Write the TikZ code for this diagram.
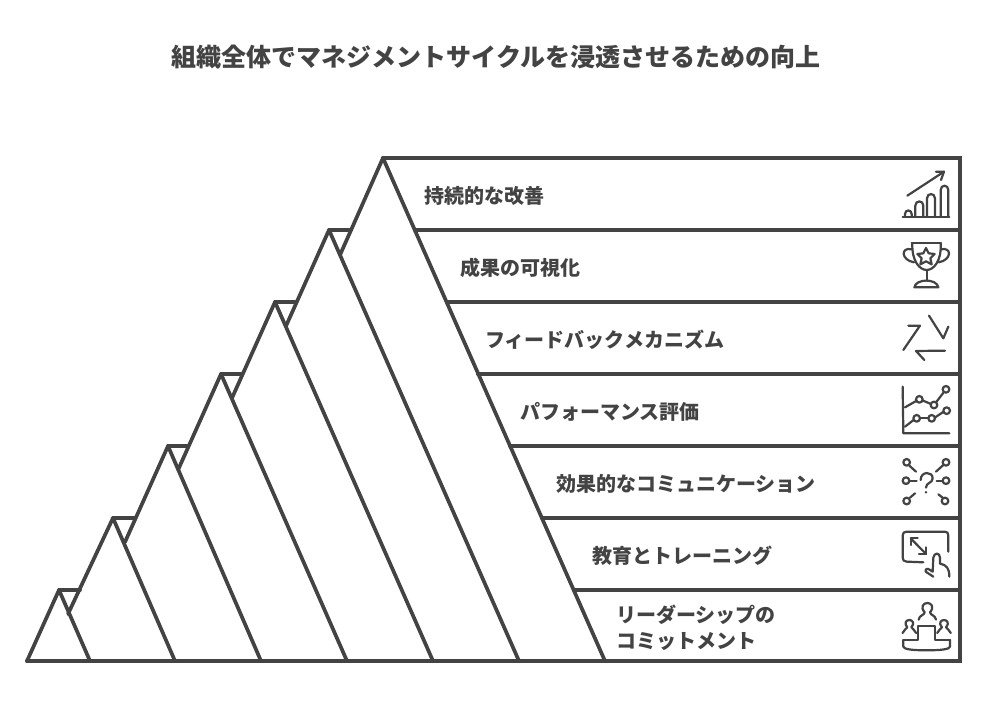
\documentclass[tikz,border=0pt]{standalone}
\usepackage{fontspec}
\setmainfont{Noto Sans CJK JP}
\usetikzlibrary{calc}
\definecolor{ink}{HTML}{434343}
\tikzset{
  edge/.style={draw=ink,line width=3.7pt,line join=round,line cap=round},
  rail/.style={draw=ink,line width=4.1pt,line cap=round},
  icon/.style={draw=ink,line width=2.2pt,line join=round,line cap=round,fill=none},
  icong/.style={x=0.3333pt,y=-0.3333pt},
  rowlabel/.style={anchor=west,inner sep=0pt,text=ink,font=\fontsize{20}{26}\selectfont\bfseries,align=left},
  titlelabel/.style={inner sep=0pt,text=ink,font=\fontsize{25}{30}\selectfont\bfseries}
}
\begin{document}
\begin{tikzpicture}[x=1pt,y=-1pt]
\useasboundingbox[fill=white] (0,0) rectangle (986,713);
\coordinate (BL) at (27,661);
\coordinate (BR) at (960,661);
\coordinate (TR) at (960,158);
\foreach \n/\ax/\ay/\bx in {1/59/590/90,2/113/518/175,3/168/446/261,4/221/374/347,5/275/302/433,6/329/230/519,7/383/158/605}{
  \coordinate (A\n) at (\ax,\ay);
  \coordinate (B\n) at (\bx,661);
}
\coordinate (J2) at (68,614);
\coordinate (J3) at (125,542);
\coordinate (J4) at (178,470);
\coordinate (J5) at (232,398);
\coordinate (J6) at (286,326);
\coordinate (J7) at (340,255);
\coordinate (H1) at (80,590);
\coordinate (H2) at (134,518);
\coordinate (H3) at (187,446);
\coordinate (H4) at (241,374);
\coordinate (H5) at (295,302);
\coordinate (H6) at (349,230);
\coordinate (R1) at (415,230);
\coordinate (R2) at (447,302);
\coordinate (R3) at (478,374);
\coordinate (R4) at (510,446);
\coordinate (R5) at (542,518);
\coordinate (R6) at (574,590);
\draw[edge] (BL) -- (A1) -- (B1);
\draw[edge] (J2) -- (A2) -- (B2);
\draw[edge] (J3) -- (A3) -- (B3);
\draw[edge] (J4) -- (A4) -- (B4);
\draw[edge] (J5) -- (A5) -- (B5);
\draw[edge] (J6) -- (A6) -- (B6);
\draw[edge] (J7) -- (A7) -- (B7);
\foreach \n in {1,...,6}{\draw[edge] (A\n) -- (H\n);}
\draw[rail] (A7) -- (TR) -- (BR) -- (BL);
\foreach \n/\y in {1/230,2/302,3/374,4/446,5/518,6/590}{\draw[rail] (R\n) -- (960,\y);}
\node[titlelabel] (title) at (496,57.5) {組織全体でマネジメントサイクルを浸透させるための向上};
\node[rowlabel] (t7) at (424,195.7) {持続的な改善};
\node[rowlabel] (t6) at (460,267.7) {成果の可視化};
\node[rowlabel] (t5) at (485,339.7) {フィードバックメカニズム};
\node[rowlabel] (t4) at (520,411.7) {パフォーマンス評価};
\node[rowlabel] (t3) at (556,483.7) {効果的なコミュニケーション};
\node[rowlabel] (t2) at (592,555.7) {教育とトレーニング};
\node[rowlabel] (t1) at (616,627.5) {リーダーシップの\\コミットメント};
\begin{scope}[shift={(880pt,-150pt)},icong]
 \draw[icon] (82,137) -- (192,65);
 \draw[icon] (168,65) -- (192,65) -- (183,90);
 \draw[icon] (68,201) -- (208,201);
 \draw[icon] (75,200) -- (75,192) .. controls (75,178) and (95,178) .. (95,192) -- (95,200);
 \draw[icon] (106,200) -- (106,167) .. controls (106,150) and (130,150) .. (130,167) -- (130,200);
 \draw[icon] (141,200) -- (141,145) .. controls (141,128) and (165,128) .. (165,145) -- (165,200);
 \draw[icon] (182,200) -- (182,120) .. controls (182,103) and (205,103) .. (205,120) -- (205,200);
 \draw[icon] (95,280) -- (183,280);
 \draw[icon] (97,280) .. controls (95,335) and (120,360) .. (140,360) .. controls (160,360) and (185,335) .. (182,280);
 \draw[icon] (95,298) .. controls (62,290) and (62,330) .. (102,337);
 \draw[icon] (183,298) .. controls (216,290) and (216,330) .. (176,337);
 \draw[icon] (140,360) -- (140,392);
 \draw[icon] (103,412) -- (175,412) .. controls (170,385) and (108,385) .. (103,412);
 \draw[icon] (138,294) -- (146,310) -- (164,312) -- (151,325) -- (155,343) -- (138,334) -- (121,343) -- (125,325) -- (112,312) -- (130,310) -- cycle;
 \draw[icon] (147,497) -- (190,565) -- (205,530);
 \draw[icon] (70,600) -- (120,527) -- (85,527);
 \draw[icon] (195,602) -- (108,603) -- (133,630);
\end{scope}
\begin{scope}[shift={(880pt,-375pt)},icong]
 \draw[icon] (68,35) -- (70,175) -- (208,175);
 \draw[icon] (75,97) -- (110,77);
 \draw[icon] (127,76) -- (153,87);
 \draw[icon] (168,82) -- (192,51);
 \draw[icon] (118,73) circle[radius=10];
 \draw[icon] (162,90) circle[radius=10];
 \draw[icon] (198,43) circle[radius=10];
 \draw[icon] (75,155) -- (102,134);
 \draw[icon] (119,130) -- (146,130);
 \draw[icon] (164,128) -- (191,110);
 \draw[icon] (110,130) circle[radius=10];
 \draw[icon] (155,130) circle[radius=10];
 \draw[icon] (200,107) circle[radius=10];
 \foreach \x/\y in {80/262,198/262,78/317,198/317,80/378,195/378}{\draw[icon] (\x,\y) circle[radius=10];}
 \draw[icon] (88,272) -- (108,290);
 \draw[icon] (190,270) -- (168,290);
 \draw[icon] (88,317) -- (110,317);
 \draw[icon] (170,317) -- (188,317);
 \draw[icon] (90,368) -- (105,355);
 \draw[icon] (175,358) -- (188,368);
 \draw[icon] (122,315) .. controls (122,288) and (158,288) .. (158,310) .. controls (158,325) and (138,322) .. (138,338);
 \fill[ink] (138,352) circle[radius=4];
 \draw[icon] (130,562) -- (80,560) .. controls (72,560) and (68,555) .. (68,548) -- (68,482) .. controls (68,474) and (72,470) .. (80,470) -- (195,470) .. controls (202,470) and (205,474) .. (205,482) -- (205,530);
 \draw[icon] (92,490) -- (138,537);
 \draw[icon] (92,510) -- (92,490) -- (113,490);
 \draw[icon] (138,517) -- (138,537) -- (117,537);
 \draw[icon] (160,605) -- (137,590) .. controls (135,582) and (142,578) .. (150,585) -- (158,590) -- (160,548) .. controls (162,532) and (180,532) .. (180,548) -- (180,566) .. controls (200,570) and (208,580) .. (208,605);
 % podium figures: open-bottomed heads with flared shoulders
 \foreach \cx/\cy/\s in {142/698/1,88/746/0.78,192/746/0.78}{
  \begin{scope}[shift={(\cx*0.3333pt,-\cy*0.3333pt)},x=0.3333*\s pt,y=-0.3333*\s pt]
   \draw[icon] (-26,36) .. controls (-24,22) and (-10,24) .. (-8,14) .. controls (-22,-2) and (-12,-14) .. (0,-14) .. controls (12,-14) and (22,-2) .. (8,14) .. controls (10,24) and (24,22) .. (26,36);
  \end{scope}
 }
 \draw[icon] (70,795) -- (115,795) -- (115,752) -- (165,752) -- (165,795) -- (210,795);
 \draw[icon] (70,795) -- (70,815) .. controls (72,822) and (90,826) .. (140,826) .. controls (190,826) and (208,822) .. (210,815) -- (210,795);
\end{scope}
\end{tikzpicture}
\end{document}
